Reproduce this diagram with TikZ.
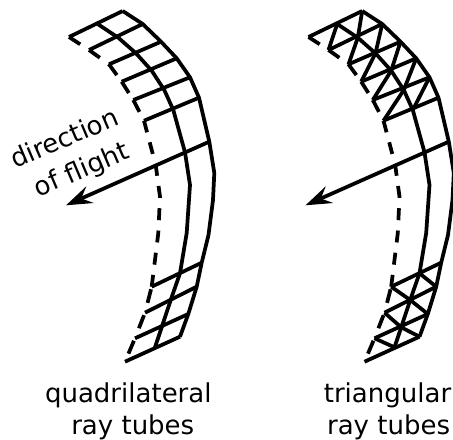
\documentclass[tikz,border=0pt]{standalone}
\usepackage{fontspec}
\setmainfont{DejaVu Sans}
\usetikzlibrary{arrows.meta}
\tikzset{
  wire/.style={line width=2.8pt,line join=round},
  dashwire/.style={wire,dash pattern=on 9pt off 7.75pt},
  dashupper/.style={wire,dash pattern=on 10pt off 8pt},
  dashlower/.style={wire,dash pattern=on 10.5pt off 9pt,dash phase=17.5pt},
  flight/.style={line width=2.8pt,-{Stealth[length=19.5pt,width=13.5pt,inset=7pt]}},
  lab/.style={font=\fontsize{19.5pt}{23pt}\selectfont,inner sep=0pt,anchor=base,text=black}
}
% #1 prefix, #2 x offset
\newcommand{\tubeframe}[2]{%
  \begin{scope}[xshift=#2*0.75pt]
    \coordinate (#1o1) at (122.7,11);
    \coordinate (#1o2) at (142.7,24);
    \coordinate (#1o3) at (161,41.7);
    \coordinate (#1o4) at (176.7,58.3);
    \coordinate (#1o5) at (190,77.3);
    \coordinate (#1o6) at (199,97.7);
    \coordinate (#1o7) at (209.3,141.7);
    \coordinate (#1oa) at (214.3,173);
    \coordinate (#1ob) at (213,200);
    \coordinate (#1oc) at (208.5,235);
    \coordinate (#1o8) at (201.7,262.7);
    \coordinate (#1o9) at (196.7,286.7);
    \coordinate (#1o10) at (188.3,314);
    \coordinate (#1o11) at (180,336.7);
    \coordinate (#1m1) at (97.7,24);
    \coordinate (#1m2) at (118.3,37.7);
    \coordinate (#1m3) at (136,53.3);
    \coordinate (#1m4) at (151.7,70.7);
    \coordinate (#1m5) at (164.3,90);
    \coordinate (#1m6) at (173.3,110);
    \coordinate (#1m7) at (185,152.3);
    \coordinate (#1ma) at (190,185);
    \coordinate (#1mb) at (186.7,233);
    \coordinate (#1m8) at (180,273.3);
    \coordinate (#1m9) at (170.7,300);
    \coordinate (#1m10) at (161.7,327.3);
    \coordinate (#1m11) at (155,347.3);
    \coordinate (#1i1) at (69,37);
    \coordinate (#1i2) at (89,50);
    \coordinate (#1i3) at (109,64.3);
    \coordinate (#1i4) at (121.7,81.7);
    \coordinate (#1i5) at (133.3,100);
    \coordinate (#1i6) at (144,120.7);
    \coordinate (#1i7) at (155.7,165);
    \coordinate (#1ia) at (160,196.7);
    \coordinate (#1ib) at (158.3,233);
    \coordinate (#1i8) at (151.7,286.7);
    \coordinate (#1i9) at (145,312.7);
    \coordinate (#1i10) at (135,338.3);
    \coordinate (#1i11) at (125,361.7);
    \coordinate (#1tip) at (66,205.3);
    \draw[wire] (#1o1)--(#1o2)--(#1o3)--(#1o4)--(#1o5)--(#1o6)--(#1o7)--(#1oa)--(#1ob)--(#1oc)--(#1o8)--(#1o9)--(#1o10)--(#1o11);
    \draw[wire] (#1m1)--(#1m2)--(#1m3)--(#1m4)--(#1m5)--(#1m6)--(#1m7)--(#1ma)--(#1mb)--(#1m8)--(#1m9)--(#1m10)--(#1m11);
    \foreach \k [evaluate=\k as \n using int(\k+1)] in {1,...,5} \draw[dashupper] (#1i\k)--(#1i\n);
    \draw[dashwire] (#1i6)--(#1i7)--(#1ia)--(#1ib)--(#1i8);
    \foreach \k [evaluate=\k as \n using int(\k+1)] in {8,9,10} \draw[dashlower] (#1i\k)--(#1i\n);
    \foreach \k in {1,...,6,8,9,10,11} \draw[wire] (#1i\k)--(#1o\k);
    \draw[flight] (#1o7)--(#1tip);
  \end{scope}}
\begin{document}
\begin{tikzpicture}[x=0.75pt,y=-0.75pt]
  \useasboundingbox (0,0) rectangle (453,439);
  \tubeframe{a}{0}
  \tubeframe{b}{239.5}
  % triangular subdivision, upper and lower patches
  \foreach \k [evaluate=\k as \n using int(\k+1)] in {1,...,5} {
    \draw[wire] (bo\k)--(bm\n);
    \draw[wire] (bm\k)--(bi\n);
  }
  \foreach \k [evaluate=\k as \n using int(\k+1)] in {8,9,10} {
    \draw[wire] (bi\k)--(bm\n);
    \draw[wire] (bm\k)--(bo\n);
  }
  \node[lab,rotate=23] (dir) at (68,146.7) {direction};
  \node[lab,rotate=23] (fl) at (85,177.5) {of flight};
  \node[lab] (q1) at (128.3,402.3) {quadrilateral};
  \node[lab] (q2) at (132.8,434.7) {ray tubes};
  \node[lab] (t1) at (387.5,402.3) {triangular};
  \node[lab] (t2) at (388.6,434.7) {ray tubes};
\end{tikzpicture}
\end{document}
